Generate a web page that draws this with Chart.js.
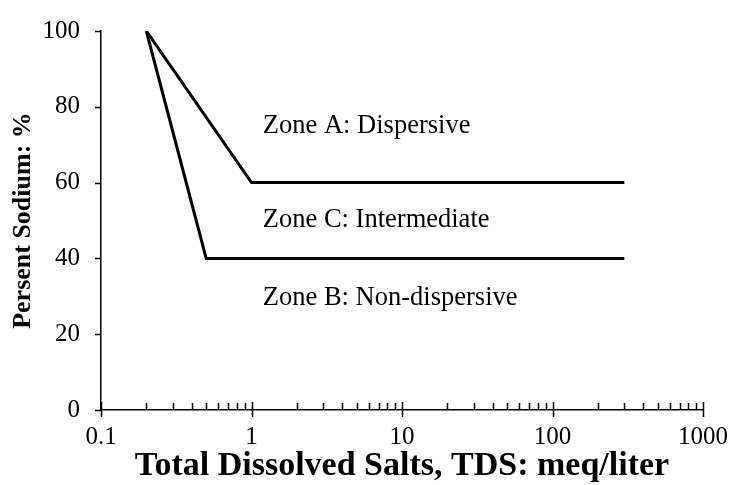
<!DOCTYPE html>
<html>
<head>
<meta charset="utf-8">
<script src="https://cdn.jsdelivr.net/npm/chart.js@4"></script>
<style>
  html, body { margin: 0; padding: 0; background: #fff; }
  #wrap { width: 731px; height: 485px; }
</style>
</head>
<body>
<div id="wrap"><canvas id="c" width="731" height="485"></canvas></div>
<script>
// ---- data ----
const upperTDS = [0.2, 1, 300];
const upperNa = [100, 60, 60];
const lowerTDS = [0.2, 0.5, 300];
const lowerNa = [100, 40, 40];
const xTickValues = [0.1, 1, 10, 100, 1000];
const yTickValues = [0, 20, 40, 60, 80, 100];
const zoneLabels = ['Zone A: Dispersive', 'Zone C: Intermediate', 'Zone B: Non-dispersive'];
const zoneX = [1.19, 1.19, 1.19];
const zoneY = [75, 50, 29.5];

const FONT = "'Liberation Serif', 'Times New Roman', serif";

function pts(xs, ys) { return xs.map((x, i) => ({ x: x, y: ys[i] })); }

const tickPlugin = {
  id: 'customTicks',
  afterDraw(chart) {
    const ctx = chart.ctx;
    const xs = chart.scales.x, ys = chart.scales.y;
    const axisY = ys.getPixelForValue(0);
    const axisX = xs.getPixelForValue(0.1);
    ctx.save();
    ctx.strokeStyle = '#000';
    ctx.lineWidth = 1.5;
    ctx.beginPath();
    yTickValues.forEach(v => {
      const py = Math.round(ys.getPixelForValue(v)) + 0.5;
      ctx.moveTo(axisX - 6, py);
      ctx.lineTo(axisX, py);
    });
    for (let d = 0; d < xTickValues.length; d++) {
      const base = xTickValues[d];
      const px = Math.round(xs.getPixelForValue(base)) + 0.5;
      ctx.moveTo(px, axisY - 8);
      ctx.lineTo(px, axisY + 7);
      if (d < xTickValues.length - 1) {
        for (let m = 2; m <= 9; m++) {
          const mx = Math.round(xs.getPixelForValue(base * m)) + 0.5;
          ctx.moveTo(mx, axisY - 7);
          ctx.lineTo(mx, axisY);
        }
      }
    }
    ctx.stroke();
    ctx.fillStyle = '#000';
    ctx.font = '26.5px ' + FONT;
    ctx.textAlign = 'left';
    ctx.textBaseline = 'middle';
    zoneLabels.forEach((t, i) => {
      ctx.fillText(t, xs.getPixelForValue(zoneX[i]), ys.getPixelForValue(zoneY[i]));
    });
    ctx.restore();
  }
};

new Chart(document.getElementById('c'), {
  type: 'scatter',
  data: {
    datasets: [
      { data: pts(upperTDS, upperNa), showLine: true, borderColor: '#000', borderWidth: 3, pointRadius: 0, fill: false, tension: 0 },
      { data: pts(lowerTDS, lowerNa), showLine: true, borderColor: '#000', borderWidth: 3, pointRadius: 0, fill: false, tension: 0 }
    ]
  },
  options: {
    responsive: false,
    animation: false,
    devicePixelRatio: 1,
    layout: { padding: { top: 31, right: 28, left: 0, bottom: 0 } },
    plugins: { legend: { display: false }, tooltip: { enabled: false } },
    scales: {
      x: {
        type: 'logarithmic',
        min: 0.1, max: 1000,
        afterBuildTicks(scale) { scale.ticks = xTickValues.map(v => ({ value: v })); },
        afterFit(scale) { scale.height = 75; scale.paddingLeft = 0; scale.paddingRight = 0; },
        grid: { display: false, drawTicks: false },
        border: { display: true, color: '#000', width: 1.5 },
        ticks: {
          color: '#000', padding: 12,
          font: { family: FONT, size: 25 },
          autoSkip: false, maxRotation: 0,
          callback(v) { return String(v); }
        },
        title: {
          display: true, text: 'Total Dissolved Salts, TDS: meq/liter', color: '#000',
          font: { family: FONT, size: 34, weight: 'bold', lineHeight: 1 },
          padding: { top: 0, bottom: 2 }
        }
      },
      y: {
        min: 0, max: 100,
        afterBuildTicks(scale) { scale.ticks = yTickValues.map(v => ({ value: v })); },
        afterFit(scale) { scale.width = 101; scale.paddingTop = 0; scale.paddingBottom = 0; },
        grid: { display: false, drawTicks: false },
        border: { display: true, color: '#000', width: 1.5 },
        ticks: {
          color: '#000', padding: 21,
          font: { family: FONT, size: 25 }
        },
        title: {
          display: true, text: 'Persent Sodium: %', color: '#000',
          font: { family: FONT, size: 26, weight: 'bold', lineHeight: 1 },
          padding: { top: 10, bottom: 0 }
        }
      }
    }
  },
  plugins: [tickPlugin]
});
</script>
</body>
</html>
